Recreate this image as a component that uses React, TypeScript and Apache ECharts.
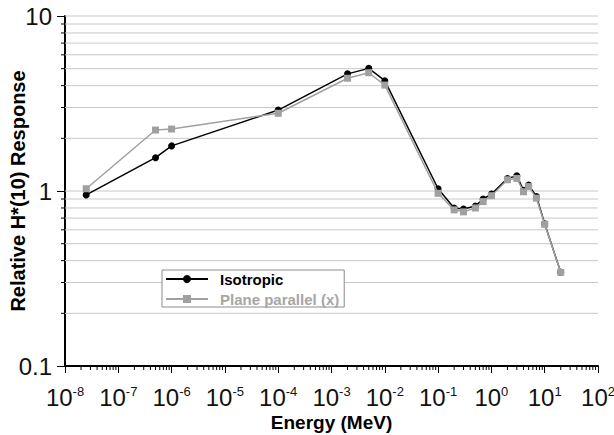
import React, { useEffect, useRef } from "react";
import * as echarts from "echarts";

// Energies (MeV)
const energies = [2.5e-8, 5e-7, 1e-6, 1e-4, 2e-3, 5e-3, 1e-2, 0.1, 0.2, 0.3, 0.5, 0.7, 1, 2, 3, 4, 5, 7, 10, 20];
// Relative H*(10) response
const isotropic = [0.95, 1.55, 1.81, 2.9, 4.67, 5.02, 4.27, 1.03, 0.8, 0.79, 0.82, 0.9, 0.96, 1.18, 1.22, 1.01, 1.08, 0.93, 0.65, 0.343];
const planeParallel = [1.03, 2.23, 2.26, 2.78, 4.41, 4.74, 4.03, 0.97, 0.78, 0.76, 0.8, 0.87, 0.94, 1.16, 1.18, 0.99, 1.06, 0.91, 0.645, 0.343];

const seriesNames = ["Isotropic", "Plane parallel (x)"];
const xDecades = [1e-8, 1e-7, 1e-6, 1e-5, 1e-4, 1e-3, 1e-2, 1e-1, 1, 10];
const yDecades = [0.1, 1];
const minorMultipliers = [2, 3, 4, 5, 6, 7, 8, 9];
const gridValues = [0.2, 0.3, 0.4, 0.5, 0.6, 0.7, 0.8, 0.9, 1, 2, 3, 4, 5, 6, 7, 8, 9, 10];

const X_MIN = 1e-8;
const X_MAX = 1e2;
const Y_MIN = 0.1;
const Y_MAX = 10;

const FONT = "'Liberation Sans', Arial, Helvetica, sans-serif";

export default function App() {
  const ref = useRef<HTMLDivElement>(null);

  useEffect(() => {
    if (!ref.current) return;
    const chart = echarts.init(ref.current, null, { renderer: "svg" });

    const xMinor: number[][] = [];
    xDecades.forEach((d) => minorMultipliers.forEach((m) => xMinor.push([+(d * m).toPrecision(3), Y_MIN])));
    const yMinor: number[][] = [];
    yDecades.forEach((d) => minorMultipliers.forEach((m) => yMinor.push([X_MIN, +(d * m).toPrecision(3)])));

    const option: any = {
      animation: false,
      grid: { left: 65, top: 16, right: 16, bottom: 69, containLabel: false, outerBoundsMode: "none" },
      legend: {
        orient: "vertical",
        left: 162,
        top: 270,
        padding: [1, 5, 0, 3],
        itemGap: 4,
        itemWidth: 42,
        itemHeight: 10,
        backgroundColor: "#ffffff",
        borderColor: "#8c8c8c",
        borderWidth: 1,
        borderRadius: 0,
        formatter: "{t|{name}}",
        textStyle: {
          fontFamily: FONT,
          fontSize: 15,
          fontWeight: "bold",
          lineHeight: 16,
          rich: { t: { padding: [0, 0, 0, 7], fontFamily: FONT, fontSize: 15, fontWeight: "bold", lineHeight: 16 } },
        },
        data: [
          { name: seriesNames[0], textStyle: { color: "#000000" } },
          { name: seriesNames[1], textStyle: { color: "#a6a6a6" } },
        ],
      },
      xAxis: {
        type: "log",
        logBase: 10,
        min: X_MIN,
        max: X_MAX,
        interval: 1,
        name: "Energy (MeV)",
        nameLocation: "middle",
        nameGap: 47,
        nameMoveOverlap: false,
        nameTextStyle: { fontFamily: FONT, fontSize: 19, fontWeight: "bold", color: "#000" },
        axisLine: { show: true, onZero: false, lineStyle: { color: "#000", width: 2 } },
        axisTick: { show: true, length: 7, lineStyle: { color: "#000", width: 1 } },
        splitLine: { show: false },
        minorTick: { show: false },
        axisLabel: {
          margin: 19,
          formatter: (v: number) => {
            const e = Math.round(Math.log10(v));
            return "{b|10}{s|" + e + "}";
          },
          rich: {
            b: { fontFamily: FONT, fontSize: 24, lineHeight: 24, color: "#111" },
            s: { fontFamily: FONT, fontSize: 13, lineHeight: 13, verticalAlign: "top", color: "#111" },
          },
        },
      },
      yAxis: {
        type: "log",
        logBase: 10,
        min: Y_MIN,
        max: Y_MAX,
        interval: 1,
        name: "Relative H*(10) Response",
        nameLocation: "middle",
        nameGap: 37,
        nameRotate: 90,
        nameMoveOverlap: false,
        nameTextStyle: { fontFamily: FONT, fontSize: 20, fontWeight: "bold", color: "#000" },
        axisLine: { show: true, onZero: false, lineStyle: { color: "#000", width: 2 } },
        axisTick: { show: true, length: 8, lineStyle: { color: "#000", width: 1 } },
        splitLine: { show: false },
        axisLabel: {
          margin: 13,
          fontFamily: FONT,
          fontSize: 24,
          color: "#111",
          formatter: (v: number) => String(+v.toPrecision(3)),
        },
      },
      series: [
        {
          type: "custom",
          name: "grid",
          z: 1,
          silent: true,
          data: gridValues.map((v) => [X_MIN, v]),
          renderItem: (params: any, api: any) => {
            const v = api.value(1);
            const a = api.coord([X_MIN, v]);
            const b = api.coord([X_MAX, v]);
            return {
              type: "line",
              shape: { x1: a[0], y1: a[1], x2: b[0], y2: b[1] },
              style: { stroke: "#c8c8c8", lineWidth: 1 },
            };
          },
        },
        {
          type: "custom",
          name: "xminor",
          z: 3,
          silent: true,
          data: xMinor,
          renderItem: (params: any, api: any) => {
            const p = api.coord([api.value(0), Y_MIN]);
            return {
              type: "line",
              shape: { x1: p[0], y1: p[1], x2: p[0], y2: p[1] + 4 },
              style: { stroke: "#000", lineWidth: 1 },
            };
          },
        },
        {
          type: "custom",
          name: "yminor",
          z: 3,
          silent: true,
          data: yMinor,
          renderItem: (params: any, api: any) => {
            const p = api.coord([X_MIN, api.value(1)]);
            return {
              type: "line",
              shape: { x1: p[0] - 4, y1: p[1], x2: p[0], y2: p[1] },
              style: { stroke: "#000", lineWidth: 1 },
            };
          },
        },
        {
          type: "line",
          name: seriesNames[0],
          z: 4,
          data: energies.map((e, i) => [e, isotropic[i]]),
          symbol: "circle",
          symbolSize: 7,
          showSymbol: true,
          lineStyle: { color: "#000", width: 1.5 },
          itemStyle: { color: "#000" },
        },
        {
          type: "line",
          name: seriesNames[1],
          z: 5,
          data: energies.map((e, i) => [e, planeParallel[i]]),
          symbol: "rect",
          symbolSize: 7,
          showSymbol: true,
          lineStyle: { color: "#a0a0a0", width: 1.5 },
          itemStyle: { color: "#a0a0a0" },
        },
      ],
    };

    chart.setOption(option);
    return () => chart.dispose();
  }, []);

  return <div ref={ref} style={{ position: "fixed", left: 0, top: 0, width: 614, height: 435, background: "#fff" }} />;
}
